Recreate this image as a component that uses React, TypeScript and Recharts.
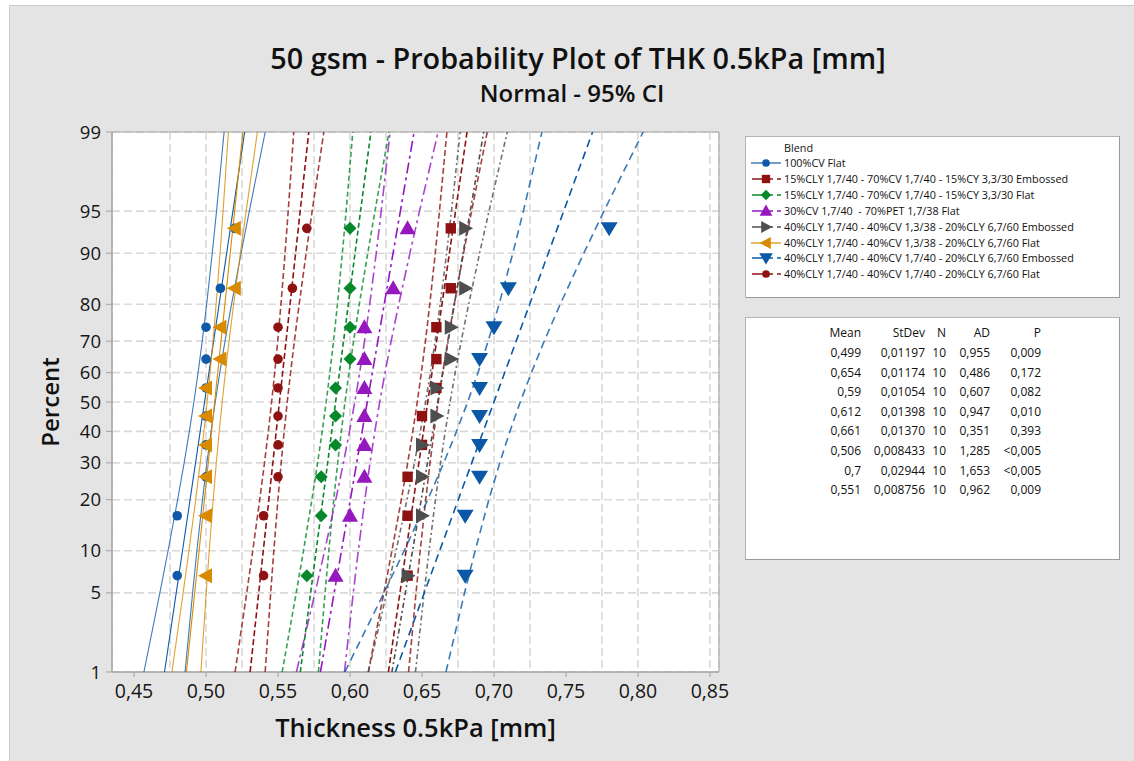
import { ScatterChart, Scatter, XAxis, YAxis, CartesianGrid, ReferenceArea, Legend, Label } from 'recharts'

// blends, in legend order
const blendNames = [
  '100%CV Flat',
  '15%CLY 1,7/40 - 70%CV 1,7/40 - 15%CY 3,3/30 Embossed',
  '15%CLY 1,7/40 - 70%CV 1,7/40 - 15%CY 3,3/30 Flat',
  '30%CV 1,7/40  - 70%PET 1,7/38 Flat',
  '40%CLY 1,7/40 - 40%CV 1,3/38 - 20%CLY 6,7/60 Embossed',
  '40%CLY 1,7/40 - 40%CV 1,3/38 - 20%CLY 6,7/60 Flat',
  '40%CLY 1,7/40 - 40%CV 1,7/40 - 20%CLY 6,7/60 Embossed',
  '40%CLY 1,7/40 - 40%CV 1,7/40 - 20%CLY 6,7/60 Flat',
]

// sorted thickness readings [mm], 10 per blend
const cv100Flat = [0.48, 0.48, 0.5, 0.5, 0.5, 0.5, 0.5, 0.5, 0.51, 0.52]
const cly15Emb = [0.64, 0.64, 0.64, 0.65, 0.65, 0.66, 0.66, 0.66, 0.67, 0.67]
const cly15Flat = [0.57, 0.58, 0.58, 0.59, 0.59, 0.59, 0.6, 0.6, 0.6, 0.6]
const cv30Pet = [0.59, 0.6, 0.61, 0.61, 0.61, 0.61, 0.61, 0.61, 0.63, 0.64]
const cly40cv13Emb = [0.64, 0.65, 0.65, 0.65, 0.66, 0.66, 0.67, 0.67, 0.68, 0.68]
const cly40cv13Flat = [0.5, 0.5, 0.5, 0.5, 0.5, 0.5, 0.51, 0.51, 0.52, 0.52]
const cly40cv17Emb = [0.68, 0.68, 0.69, 0.69, 0.69, 0.69, 0.69, 0.7, 0.71, 0.78]
const cly40cv17Flat = [0.54, 0.54, 0.55, 0.55, 0.55, 0.55, 0.55, 0.55, 0.56, 0.57]
const readings = [cv100Flat, cly15Emb, cly15Flat, cv30Pet, cly40cv13Emb, cly40cv13Flat, cly40cv17Emb, cly40cv17Flat]

// plotting positions (median ranks) in percent
const plotPercents = [6.73, 16.35, 25.96, 35.58, 45.19, 54.81, 64.42, 74.04, 83.65, 93.27]

// stats table
const means = [0.499, 0.654, 0.59, 0.612, 0.661, 0.506, 0.7, 0.551]
const stdevs = [0.01197, 0.01174, 0.01054, 0.01398, 0.0137, 0.008433, 0.02944, 0.008756]
const counts = [10, 10, 10, 10, 10, 10, 10, 10]
const adValues = [0.955, 0.486, 0.607, 0.947, 0.351, 1.285, 1.653, 0.962]
const pLabels = ['0,009', '0,172', '0,082', '0,010', '0,393', '<0,005', '<0,005', '0,009']

// axes
const percentTicks = [1, 5, 10, 20, 30, 40, 50, 60, 70, 80, 90, 95, 99]
const xMajorTicks = [0.45, 0.5, 0.55, 0.6, 0.65, 0.7, 0.75, 0.8, 0.85]
const xMinorTicks = [0.45, 0.475, 0.5, 0.525, 0.55, 0.575, 0.6, 0.625, 0.65, 0.675, 0.7, 0.725, 0.75, 0.775, 0.8, 0.825, 0.85]

type Kind = 'circle' | 'square' | 'diamond' | 'up' | 'right' | 'left' | 'down'
const colors = ['#0F5AA8', '#8E1212', '#07882B', '#9418BE', '#4E4E4E', '#D88A00', '#0A58A6', '#8E1212']
const markers: Kind[] = ['circle', 'square', 'diamond', 'up', 'right', 'left', 'down', 'circle']
const dashes = ['', '6 3', '5 3', '11 4 3 4', '5 3 2 3', '', '8 5', '6 3']

const FONT = "'Open Sans', 'Noto Sans', sans-serif"

// inverse standard normal (Acklam)
function invNorm(p: number) {
  const a = [-39.69683028665376, 220.9460984245205, -275.9285104469687, 138.357751867269, -30.66479806614716, 2.506628277459239]
  const b = [-54.47609879822406, 161.5858368580409, -155.6989798598866, 66.80131188771972, -13.28068155288572]
  const c = [-0.007784894002430293, -0.3223964580411365, -2.400758277161838, -2.549732539343734, 4.374664141464968, 2.938163982698783]
  const d = [0.007784695709041462, 0.3224671290700398, 2.445134137142996, 3.754408661907416]
  const tail = (q: number) =>
    (((((c[0] * q + c[1]) * q + c[2]) * q + c[3]) * q + c[4]) * q + c[5]) / ((((d[0] * q + d[1]) * q + d[2]) * q + d[3]) * q + 1)
  if (p < 0.02425) return tail(Math.sqrt(-2 * Math.log(p)))
  if (p > 1 - 0.02425) return -tail(Math.sqrt(-2 * Math.log(1 - p)))
  const q = p - 0.5
  const r = q * q
  return ((((((a[0] * r + a[1]) * r + a[2]) * r + a[3]) * r + a[4]) * r + a[5]) * q) /
    (((((b[0] * r + b[1]) * r + b[2]) * r + b[3]) * r + b[4]) * r + 1)
}

const yTicks = percentTicks.map((p) => invNorm(p / 100))
const yDomain = [yTicks[0], yTicks[yTicks.length - 1]]
const xDomain = [0.4347, 0.8563]

const fmtNum = (v: number) => String(v).replace('.', ',')

// fitted line and 95% CI bands from mean / stdev / N
function fitLines(i: number) {
  const m = means[i]
  const s = stdevs[i]
  const n = counts[i]
  const lower: { x: number; y: number }[] = []
  const fit: { x: number; y: number }[] = []
  const upper: { x: number; y: number }[] = []
  yTicks.forEach((z) => {
    const xp = m + z * s
    const h = 1.96 * s * Math.sqrt(1 / n + (z * z) / (2 * n))
    lower.push({ x: xp - h, y: z })
    fit.push({ x: xp, y: z })
    upper.push({ x: xp + h, y: z })
  })
  return [lower, fit, upper]
}

function Marker({ cx, cy, kind, color, k = 1 }: { cx: number; cy: number; kind: Kind; color: string; k?: number }) {
  const p = (pts: number[][]) => 'M' + pts.map(([dx, dy]) => `${cx + dx * k},${cy + dy * k}`).join('L') + 'Z'
  switch (kind) {
    case 'circle':
      return <circle cx={cx} cy={cy} r={4.8 * k} fill={color} />
    case 'square':
      return <rect x={cx - 5.2 * k} y={cy - 5.2 * k} width={10.4 * k} height={10.4 * k} fill={color} />
    case 'diamond':
      return <path d={p([[0, -6.5], [6.5, 0], [0, 6.5], [-6.5, 0]])} fill={color} />
    case 'up':
      return <path d={p([[0, -8], [8, 6], [-8, 6]])} fill={color} />
    case 'down':
      return <path d={p([[-8.5, -6], [8.5, -6], [0, 8]])} fill={color} />
    case 'right':
      return <path d={p([[-6, -7.5], [8, 0], [-6, 7.5]])} fill={color} />
    case 'left':
      return <path d={p([[6, -7.5], [-8, 0], [6, 7.5]])} fill={color} />
  }
}

function BlendLegend() {
  return (
    <div
      style={{
        width: 375, height: 162, boxSizing: 'border-box', background: '#fff',
        border: '1px solid #b4b4b4', borderRightColor: '#9a9a9a', borderBottomColor: '#9a9a9a',
        position: 'relative', fontFamily: FONT, fontSize: 10.8, color: '#111',
      }}
    >
      <div style={{ position: 'absolute', left: 38, top: 3, lineHeight: '16px' }}>Blend</div>
      {blendNames.map((name, i) => (
        <div key={name} style={{ position: 'absolute', left: 0, top: 18 + i * 15.9, height: 16, width: 370 }}>
          <svg width={36} height={16} style={{ position: 'absolute', left: 0, top: 0 }}>
            {dashes[i] ? (
              <>
                <line x1={6} x2={27} y1={8} y2={8} stroke={colors[i]} strokeWidth={1.5} />
                <line x1={31} x2={35} y1={8} y2={8} stroke={colors[i]} strokeWidth={1.5} />
              </>
            ) : (
              <line x1={5} x2={35} y1={8} y2={8} stroke={colors[i]} strokeWidth={1.2} />
            )}
            <Marker cx={20} cy={8} kind={markers[i]} color={colors[i]} k={0.8} />
          </svg>
          <span style={{ position: 'absolute', left: 38, top: 0, lineHeight: '16px', whiteSpace: 'pre' }}>{name}</span>
        </div>
      ))}
    </div>
  )
}

const statCols = [
  { head: 'Mean', right: 117, cell: (i: number) => fmtNum(means[i]) },
  { head: 'StDev', right: 181, cell: (i: number) => fmtNum(Number(stdevs[i].toPrecision(4))).replace(/^(0,0\d{3})$/, '$10') },
  { head: 'N', right: 202, cell: (i: number) => String(counts[i]) },
  { head: 'AD', right: 246, cell: (i: number) => adValues[i].toFixed(3).replace('.', ',') },
  { head: 'P', right: 297, cell: (i: number) => pLabels[i] },
]

function StatsTable() {
  const row = (top: number, cells: string[], key: string) =>
    statCols.map((c, j) => (
      <div key={key + j} style={{ position: 'absolute', right: 375 - c.right, top, lineHeight: '18px', whiteSpace: 'nowrap' }}>
        {cells[j]}
      </div>
    ))
  return (
    <div
      style={{
        position: 'absolute', left: 745, top: 317, width: 375, height: 243, boxSizing: 'border-box',
        background: '#fff', border: '1px solid #b4b4b4', borderRightColor: '#9a9a9a', borderBottomColor: '#9a9a9a',
        fontFamily: FONT, fontSize: 12, color: '#111',
      }}
    >
      {row(6, statCols.map((c) => c.head), 'h')}
      {means.map((_, i) => row(26 + i * 19.6, statCols.map((c) => c.cell(i)), 'r' + i))}
    </div>
  )
}

export default function App() {
  return (
    <div style={{ position: 'absolute', left: 0, top: 0, width: 1134, height: 761, background: '#fff', overflow: 'hidden' }}>
      <div
        style={{
          position: 'absolute', left: 9, top: 5, right: 0, bottom: 0,
          background: '#e4e4e4', borderTop: '1px solid #cbcbcb', borderLeft: '1px solid #cbcbcb',
        }}
      />
      <div
        style={{
          position: 'absolute', left: 578, top: 41, transform: 'translateX(-50%)', whiteSpace: 'nowrap',
          fontFamily: FONT, fontWeight: 600, fontSize: 28.8, lineHeight: '34px', color: '#111',
        }}
      >
        50 gsm - Probability Plot of THK 0.5kPa [mm]
      </div>
      <div
        style={{
          position: 'absolute', left: 572, top: 78, transform: 'translateX(-50%)', whiteSpace: 'nowrap',
          fontFamily: FONT, fontWeight: 600, fontSize: 24, lineHeight: '30px', color: '#111',
        }}
      >
        Normal - 95% CI
      </div>

      <div style={{ position: 'absolute', left: 0, top: 0 }}>
        <ScatterChart width={1134} height={761} margin={{ top: 132, right: 415, bottom: 19, left: 0 }}>
          <CartesianGrid xAxisId="minor" stroke="#d9d9d9" strokeWidth={1.6} strokeDasharray="8 4" fill="#fff" />
          <XAxis
            xAxisId="minor" type="number" dataKey="x" domain={xDomain} ticks={xMinorTicks}
            allowDataOverflow hide
          />
          <XAxis
            type="number" dataKey="x" domain={xDomain} ticks={xMajorTicks} allowDataOverflow height={70}
            tickFormatter={(v: number) => v.toFixed(2).replace('.', ',')}
            tick={{ fontSize: 19.5, fill: '#151515', fontFamily: FONT }}
            tickSize={5} tickMargin={7} stroke="#a3a3a3"
          >
            <Label
              value="Thickness 0.5kPa [mm]" position="insideBottom" offset={5}
              style={{ fontSize: 25.5, fontWeight: 600, fill: '#111', fontFamily: FONT }}
            />
          </XAxis>
          <YAxis
            type="number" dataKey="y" domain={yDomain} ticks={yTicks} allowDataOverflow width={112}
            tickFormatter={(v: number) => {
              const j = yTicks.findIndex((t) => Math.abs(t - v) < 1e-6)
              return j >= 0 ? String(percentTicks[j]) : ''
            }}
            tick={{ fontSize: 18.5, fill: '#151515', fontFamily: FONT }}
            tickSize={6} tickMargin={5} stroke="#a3a3a3"
          >
            <Label
              value="Percent" angle={-90} position="insideLeft" offset={50}
              style={{ fontSize: 24, fontWeight: 600, fill: '#111', fontFamily: FONT, textAnchor: 'middle' }}
            />
          </YAxis>
          <ReferenceArea
            x1={xDomain[0]} x2={xDomain[1]} y1={yDomain[0]} y2={yDomain[1]}
            fill="none" stroke="#a3a3a3" strokeWidth={1} ifOverflow="visible"
          />

          {readings.map((_, i) =>
            fitLines(i).map((pts, j) => (
              <Scatter
                key={`l${i}-${j}`} data={pts} legendType="none" isAnimationActive={false}
                line={{ stroke: colors[i], strokeWidth: dashes[i] ? 1.6 : 1.1, strokeDasharray: dashes[i] || undefined, strokeOpacity: j === 1 ? 1 : 0.8 }}
                shape={() => <g />}
              />
            ))
          )}

          {readings.map((vals, i) => (
            <Scatter
              key={`p${i}`} name={blendNames[i]} isAnimationActive={false}
              data={vals.map((x, k) => ({ x, y: invNorm(plotPercents[k] / 100) }))}
              fill={colors[i]}
              shape={(props: any) => <Marker cx={props.cx} cy={props.cy} kind={markers[i]} color={colors[i]} />}
            />
          ))}

          <Legend
            layout="vertical" align="center" verticalAlign="middle"
            wrapperStyle={{ left: 745, top: 136, width: 375, height: 162 }}
            content={() => <BlendLegend />}
          />
        </ScatterChart>
      </div>

      <StatsTable />
    </div>
  )
}
